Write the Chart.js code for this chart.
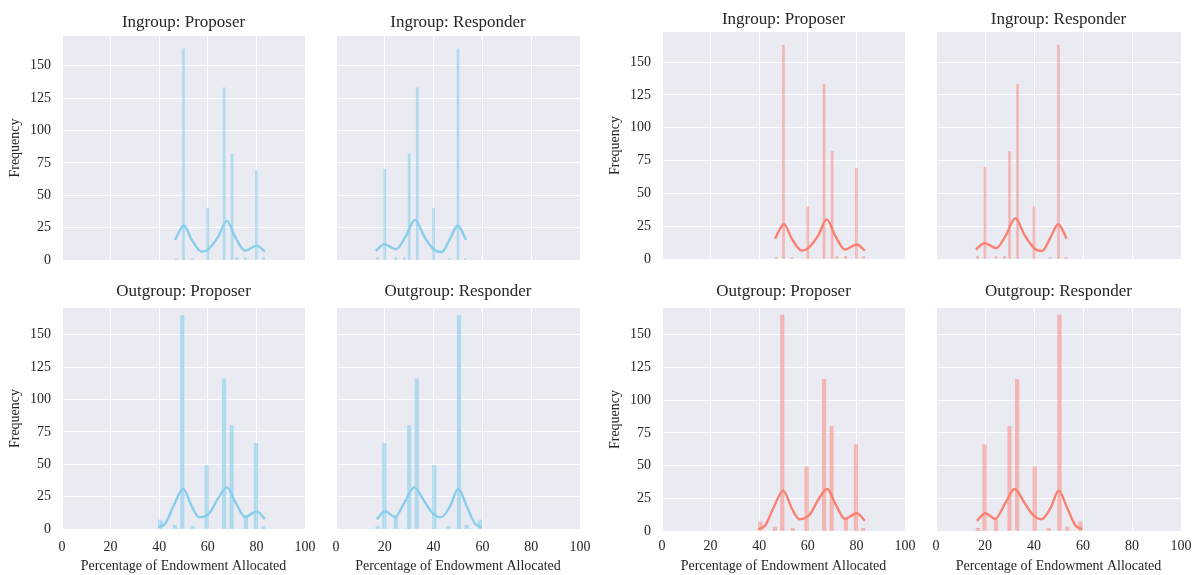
<!DOCTYPE html>
<html>
<head>
<meta charset="utf-8">
<script src="https://cdn.jsdelivr.net/npm/chart.js@4.4.1/dist/chart.umd.min.js"></script>
<style>
  body { margin: 0; background: #fff; width: 1197px; height: 575px; position: relative; overflow: hidden; }
  canvas { position: absolute; }
</style>
</head>
<body>
<script>
// axis ticks
const xTicks = [0, 20, 40, 60, 80, 100];
const yTicks = [0, 25, 50, 75, 100, 125, 150];

const xLabel = 'Percentage of Endowment Allocated';
const yLabel = 'Frequency';
const titles = ['Ingroup: Proposer', 'Ingroup: Responder', 'Outgroup: Proposer', 'Outgroup: Responder'];

// Ingroup: Proposer
const inPropBins   = [47, 50, 53.5, 60, 66.7, 70, 72, 75.5, 80, 83];
const inPropCounts = [1, 163, 1, 40, 133, 82, 2, 2, 69, 2];
const inPropKdeX   = [46.5, 50.2, 53.4, 57.5, 60.2, 64.3, 67.8, 71.2, 75.3, 80.1, 83.5];
const inPropKdeY   = [15.5, 26.6, 15.5, 6.4, 8.3, 18, 30.2, 18, 7.2, 11.1, 6.4];

// Ingroup: Responder
const inRespBins   = [17, 20, 24.5, 28, 30, 33.3, 40, 46.5, 50, 53];
const inRespCounts = [2, 70, 2, 2, 82, 133, 40, 1, 163, 1];
const inRespKdeX   = [16.3, 19.8, 24.6, 28.5, 32.4, 36.2, 40, 43.3, 46.5, 49.9, 53.3];
const inRespKdeY   = [7.2, 12.1, 8.3, 18, 31, 18, 8.3, 6, 15.5, 26.5, 15.5];

// Outgroup: Proposer
const outPropBins   = [40.5, 46.5, 49.5, 53.8, 59.5, 66.7, 69.8, 75.7, 79.8, 82.8];
const outPropCounts = [7, 3, 165, 2, 49, 116, 80, 10, 66, 2];
const outPropKdeX   = [39.6, 42.4, 45.8, 49.9, 53.4, 56.5, 60.9, 64.3, 68, 71.2, 75.3, 80.1, 83.5];
const outPropKdeY   = [1.5, 4, 17.4, 30.9, 17.4, 9, 12.8, 23.9, 32.1, 21.3, 9.3, 13.6, 7.7];

// Outgroup: Responder
const outRespBins   = [17.1, 19.8, 24.5, 30, 33.1, 40.3, 46, 50.4, 53.6, 59];
const outRespCounts = [2, 66, 9, 80, 116, 49, 2, 165, 3, 7];
const outRespKdeX   = [16.7, 20.1, 24.2, 28.3, 32.1, 36.2, 39.5, 43, 46.7, 50.1, 53.6, 57, 59.7];
const outRespKdeY   = [7.7, 13.6, 9.3, 21.3, 32.1, 21.3, 12.5, 9, 17.4, 30.9, 17.4, 4, 1.5];

const series = [
  { bins: inPropBins,  counts: inPropCounts,  kdeX: inPropKdeX,  kdeY: inPropKdeY },
  { bins: inRespBins,  counts: inRespCounts,  kdeX: inRespKdeX,  kdeY: inRespKdeY },
  { bins: outPropBins, counts: outPropCounts, kdeX: outPropKdeX, kdeY: outPropKdeY },
  { bins: outRespBins, counts: outRespCounts, kdeX: outRespKdeX, kdeY: outRespKdeY },
];

const FONT = "'Liberation Serif', 'Times New Roman', serif";
const TEXT = '#262626';

const blue   = { bar: 'rgba(135,206,235,0.6)', line: '#87CEEB' };
const salmon = { bar: 'rgba(250,128,114,0.5)', line: '#FA8072' };

// plot-area boxes (pixels) for both figures
const panels = [
  { s: 0, col: blue,   l: 62,  r: 305,  t: 36,  b: 260, titleY: 22.5, showY: true,  showX: false, yMax: 173,   bar: 2 },
  { s: 1, col: blue,   l: 336, r: 580,  t: 36,  b: 260, titleY: 22.5, showY: false, showX: false, yMax: 173,   bar: 2 },
  { s: 2, col: blue,   l: 62,  r: 305,  t: 308, b: 529, titleY: 292,  showY: true,  showX: true,  yMax: 170.6, bar: 3.5, xPad: 9.6 },
  { s: 3, col: blue,   l: 336, r: 580,  t: 308, b: 529, titleY: 292,  showY: false, showX: true,  yMax: 170.6, bar: 3.5, xPad: 9.6 },
  { s: 0, col: salmon, l: 662, r: 905,  t: 32,  b: 259, titleY: 19.3, showY: true,  showX: false, yMax: 173,   bar: 2 },
  { s: 1, col: salmon, l: 936, r: 1181, t: 32,  b: 259, titleY: 19.3, showY: false, showX: false, yMax: 173,   bar: 2 },
  { s: 2, col: salmon, l: 662, r: 905,  t: 308, b: 531, titleY: 291.5, showY: true, showX: true,  yMax: 170.5, bar: 3.5, xPad: 7.3 },
  { s: 3, col: salmon, l: 936, r: 1181, t: 308, b: 531, titleY: 291.5, showY: false, showX: true, yMax: 170.5, bar: 3.5, xPad: 7.3 },
];

const plotBg = {
  id: 'plotBg',
  beforeDraw(chart) {
    const { ctx, chartArea: a } = chart;
    ctx.save();
    ctx.fillStyle = '#EAEAF2';
    ctx.fillRect(a.left, a.top, a.right - a.left, a.bottom - a.top);
    ctx.restore();
  }
};

// panel title centred over the plot area, like matplotlib
const panelTitle = {
  id: 'panelTitle',
  afterDraw(chart, args, opts) {
    const { ctx, chartArea: a } = chart;
    ctx.save();
    ctx.font = `17px ${FONT}`;
    ctx.fillStyle = TEXT;
    ctx.textAlign = 'center';
    ctx.textBaseline = 'middle';
    ctx.fillText(opts.text, (a.left + a.right) / 2, opts.y);
    ctx.restore();
  }
};

function drawPanel(p) {
  const s = series[p.s];
  const padL = p.showY ? 0 : 12;
  const left = p.showY ? p.l - 62 : p.l - padL;
  const top = p.t - 36;
  const bottom = p.showX ? 575 : p.b + 10;

  const cv = document.createElement('canvas');
  cv.width = p.r - left + 14;
  cv.height = bottom - top;
  cv.style.left = left + 'px';
  cv.style.top = top + 'px';
  document.body.appendChild(cv);

  new Chart(cv, {
    type: 'bar',
    data: {
      datasets: [
        {
          type: 'line',
          data: s.kdeX.map((x, i) => ({ x, y: s.kdeY[i] })),
          borderColor: p.col.line, borderWidth: 2.4, pointRadius: 0,
          cubicInterpolationMode: 'monotone', fill: false, order: 0,
        },
        {
          type: 'bar',
          data: s.bins.map((x, i) => ({ x, y: s.counts[i] })),
          backgroundColor: p.col.bar, barThickness: p.bar, order: 1,
        },
      ],
    },
    options: {
      responsive: false, animation: false,
      layout: { padding: { left: padL, right: 14, top: 36, bottom: p.showX ? 0 : 10 } },
      plugins: {
        legend: { display: false },
        tooltip: { enabled: false },
        title: { display: false },
        panelTitle: { text: titles[p.s], y: p.titleY - top },
      },
      scales: {
        x: {
          type: 'linear', min: 0, max: 100, offset: false,
          border: { display: false },
          grid: { color: '#ffffff', lineWidth: 1, drawTicks: false, offset: false },
          afterBuildTicks: sc => { sc.ticks = xTicks.map(v => ({ value: v })); },
          afterFit: sc => { sc.height = p.showX ? bottom - p.b : 0; sc.paddingLeft = 0; sc.paddingRight = 0; },
          ticks: { display: p.showX, padding: p.xPad || 0, color: TEXT, maxRotation: 0, font: { family: FONT, size: 14 } },
          title: { display: p.showX, text: xLabel, color: TEXT, font: { family: FONT, size: 14 }, padding: { top: 0, bottom: 0 } },
        },
        y: {
          min: 0, max: p.yMax,
          border: { display: false },
          grid: { color: '#ffffff', lineWidth: 1, drawTicks: false },
          afterBuildTicks: sc => { sc.ticks = yTicks.map(v => ({ value: v })); },
          afterFit: sc => { sc.width = p.showY ? 62 : 0; sc.paddingTop = 0; sc.paddingBottom = 0; },
          ticks: { display: p.showY, padding: 11, color: TEXT, font: { family: FONT, size: 14 } },
          title: { display: p.showY, text: yLabel, color: TEXT, font: { family: FONT, size: 14 }, padding: { top: 6.6, bottom: 0 } },
        },
      },
    },
    plugins: [plotBg, panelTitle],
  });
}

panels.forEach(drawPanel);
</script>
</body>
</html>
